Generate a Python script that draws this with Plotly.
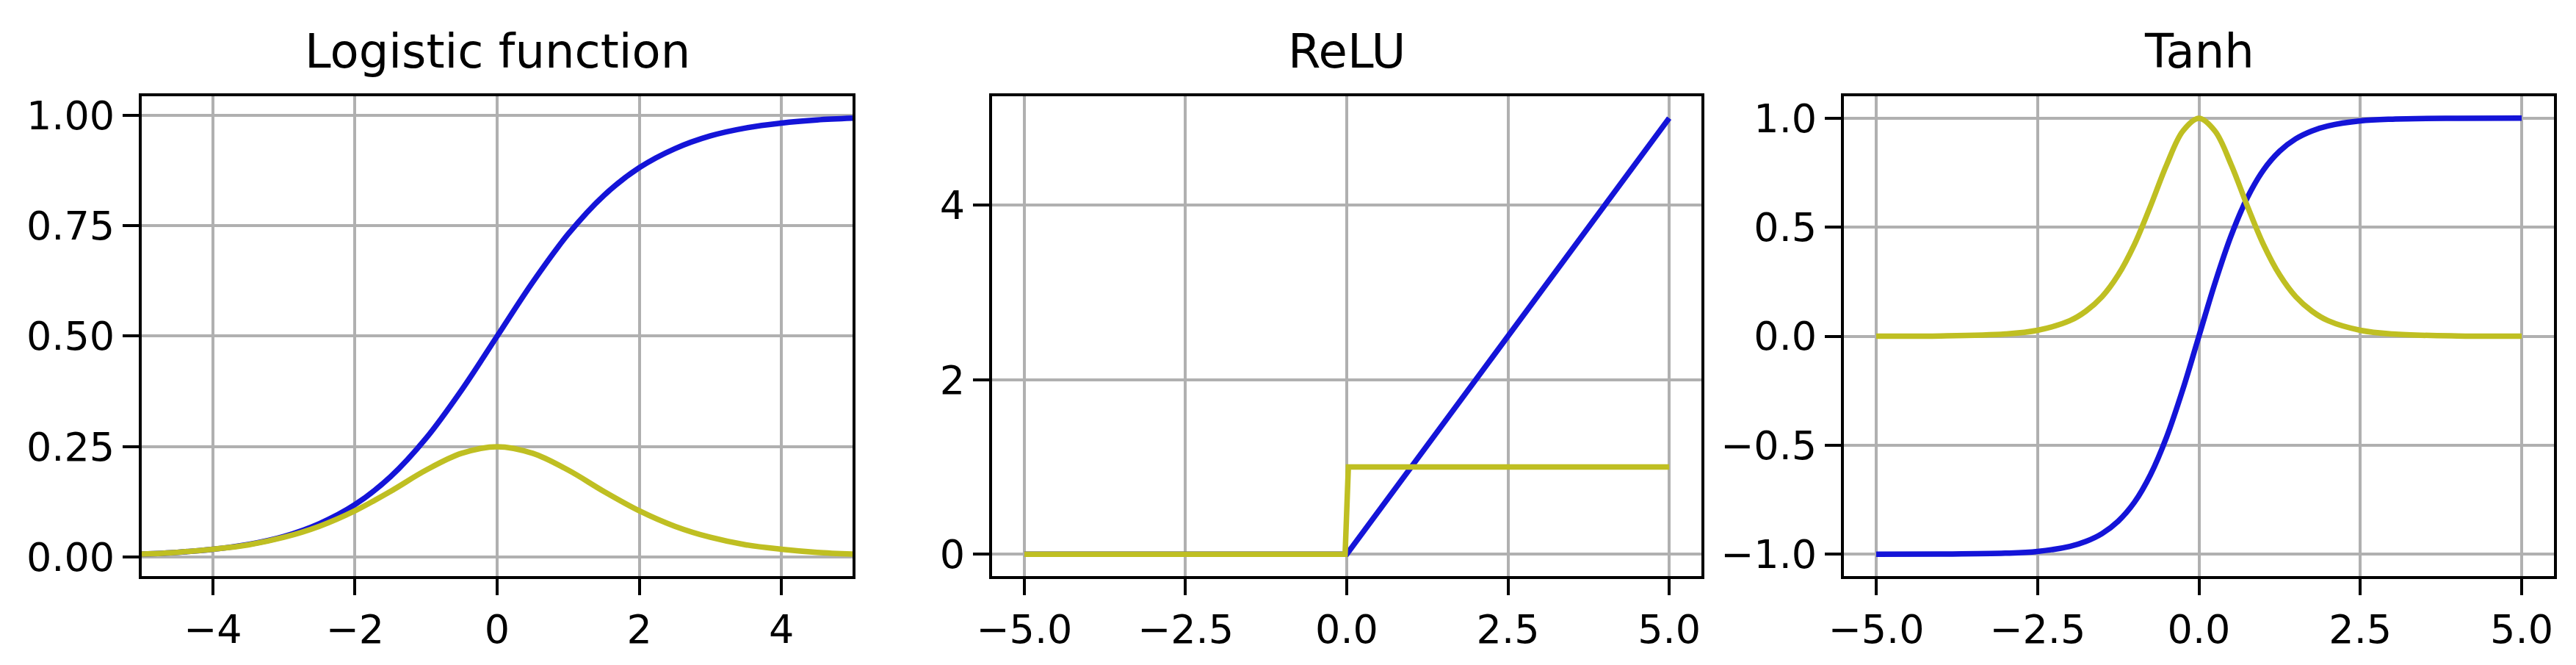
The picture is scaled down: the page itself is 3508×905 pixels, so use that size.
import plotly.graph_objects as go

# ---------------- data ----------------
titles = ["Logistic function", "ReLU", "Tanh"]

logistic_x = [-5, -4.5, -4, -3.5, -3, -2.5, -2, -1.5, -1, -0.5, 0,
              0.5, 1, 1.5, 2, 2.5, 3, 3.5, 4, 4.5, 5]
logistic_y = [0.007, 0.011, 0.018, 0.029, 0.047, 0.076, 0.119, 0.182, 0.269, 0.378, 0.500,
              0.622, 0.731, 0.818, 0.881, 0.924, 0.953, 0.971, 0.982, 0.989, 0.993]
logistic_dy = [0.007, 0.011, 0.018, 0.028, 0.045, 0.070, 0.105, 0.149, 0.197, 0.235, 0.250,
               0.235, 0.197, 0.149, 0.105, 0.070, 0.045, 0.028, 0.018, 0.011, 0.007]

relu_x = [-5, 0, 5]
relu_y = [0, 0, 5]
relu_dx = [-5, -0.025, 0.025, 5]
relu_dy = [0, 0, 1, 1]

tanh_x = [-5, -4, -3, -2.5, -2, -1.75, -1.5, -1.25, -1, -0.75, -0.5, -0.25, 0,
          0.25, 0.5, 0.75, 1, 1.25, 1.5, 1.75, 2, 2.5, 3, 4, 5]
tanh_y = [-1.000, -0.999, -0.995, -0.987, -0.964, -0.941, -0.905, -0.848, -0.762, -0.635,
          -0.462, -0.245, 0.000, 0.245, 0.462, 0.635, 0.762, 0.848, 0.905, 0.941, 0.964,
          0.987, 0.995, 0.999, 1.000]
tanh_dy = [0.000, 0.001, 0.010, 0.027, 0.071, 0.115, 0.181, 0.281, 0.420, 0.597, 0.786,
           0.940, 0.999, 0.940, 0.786, 0.597, 0.420, 0.281, 0.181, 0.115, 0.071, 0.027,
           0.010, 0.001, 0.000]

x_ticks = [[-4, -2, 0, 2, 4], [-5, -2.5, 0, 2.5, 5], [-5, -2.5, 0, 2.5, 5]]
y_ticks = [[0, 0.25, 0.5, 0.75, 1.0], [0, 2, 4], [-1, -0.5, 0, 0.5, 1]]
x_formats = ["d", ".1f", ".1f"]
y_formats = [".2f", "d", ".1f"]
x_ranges = [[-5, 5], [-5.5, 5.5], [-5.5, 5.5]]
y_ranges = [[-0.0427, 1.0426], [-0.25, 5.25], [-1.1, 1.1]]

# ---------------- styling ----------------
W, H = 3508, 905
BLUE = "#1414d8"
YELLOW = "#bfbf22"
FONT = "DejaVu Sans"
LW = 7.5

x_domains = [[185 / W, 1153 / W], [1343 / W, 2309 / W], [2503 / W, 3470 / W]]
y_domain = [1 - 776 / H, 1 - 123 / H]

fig = go.Figure()

series = [
    (logistic_x, logistic_y, logistic_x, logistic_dy, "spline"),
    (relu_x, relu_y, relu_dx, relu_dy, "linear"),
    (tanh_x, tanh_y, tanh_x, tanh_dy, "spline"),
]

for i, (fx, fy, dx, dy, shape) in enumerate(series):
    xa = "x" if i == 0 else f"x{i+1}"
    ya = "y" if i == 0 else f"y{i+1}"
    fig.add_trace(go.Scatter(x=fx, y=fy, mode="lines", xaxis=xa, yaxis=ya,
                             line=dict(color=BLUE, width=LW, shape=shape, smoothing=1.0),
                             showlegend=False))
    fig.add_trace(go.Scatter(x=dx, y=dy, mode="lines", xaxis=xa, yaxis=ya,
                             line=dict(color=YELLOW, width=LW, shape=shape, smoothing=1.0),
                             showlegend=False))

layout = dict(
    width=W, height=H,
    margin=dict(l=0, r=0, t=0, b=0, autoexpand=False),
    paper_bgcolor="white", plot_bgcolor="white",
    font=dict(family=FONT, size=54, color="black"),
    showlegend=False,
)

for i in range(3):
    xk = "xaxis" if i == 0 else f"xaxis{i+1}"
    yk = "yaxis" if i == 0 else f"yaxis{i+1}"
    anchor_y = "y" if i == 0 else f"y{i+1}"
    anchor_x = "x" if i == 0 else f"x{i+1}"
    common = dict(
        showline=True, mirror=True, linecolor="black", linewidth=4,
        showgrid=True, gridcolor="#b0b0b0", gridwidth=3.5,
        zeroline=False, automargin=False,
        ticks="outside", ticklen=22, tickwidth=4, tickcolor="black",
        tickfont=dict(family=FONT, size=54, color="black"),
    )
    layout[xk] = dict(common, domain=x_domains[i], anchor=anchor_y,
                      range=x_ranges[i], tickvals=x_ticks[i],
                      tickformat=x_formats[i])
    layout[yk] = dict(common, domain=y_domain, anchor=anchor_x,
                      range=y_ranges[i], tickvals=y_ticks[i],
                      tickformat=y_formats[i])

fig.update_layout(**layout)

for i, t in enumerate(titles):
    cx = (x_domains[i][0] + x_domains[i][1]) / 2
    fig.add_annotation(text=t, x=cx, y=1 - 62 / H, xref="paper", yref="paper",
                       xanchor="center", yanchor="middle", showarrow=False,
                       font=dict(family=FONT, size=64, color="black"))

fig.write_html("out.html")
